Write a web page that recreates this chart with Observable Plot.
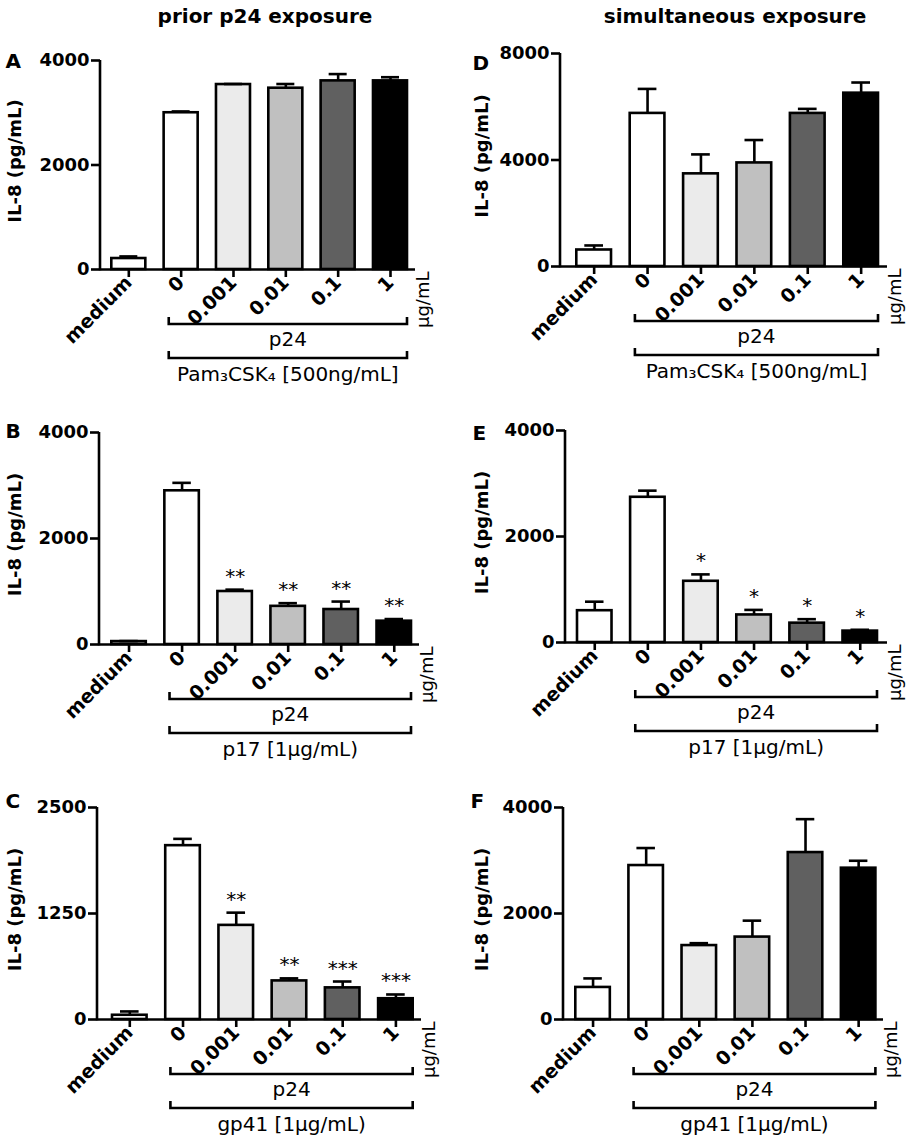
<!DOCTYPE html>
<html>
<head>
<meta charset="utf-8">
<script src="https://cdn.jsdelivr.net/npm/d3@7"></script>
<script src="https://cdn.jsdelivr.net/npm/@observablehq/plot@0.6"></script>
<style>
  html, body { margin: 0; padding: 0; background: #ffffff; }
  body { position: relative; width: 909px; height: 1142px; overflow: hidden; font-family: "DejaVu Sans", sans-serif; }
  .hdr { position: absolute; top: 6px; font-size: 20px; line-height: 20px; font-weight: bold; white-space: nowrap; transform: translateX(-50%); color: #000; }
  .panel { position: absolute; }
</style>
</head>
<body>
<div class="hdr" id="hdrLeft" style="left:265px"></div>
<div class="hdr" id="hdrRight" style="left:735px"></div>
<div id="root"></div>
<script>
// ---------------- data ----------------
const headers = ["prior p24 exposure", "simultaneous exposure"];
const categories = ["medium", "0", "0.001", "0.01", "0.1", "1"];
const p24Group = ["0", "0.001", "0.01", "0.1", "1"];
const innerLabel = "p24";
const unitLabel = "μg/mL";
const yLabel = "IL-8 (pg/mL)";

const valuesA = [210, 3000, 3540, 3470, 3610, 3610];
const errorsA = [40, 25, 10, 80, 130, 70];
const starsA  = ["", "", "", "", "", ""];

const valuesB = [55, 2900, 1000, 720, 660, 440];
const errorsB = [10, 150, 35, 60, 150, 40];
const starsB  = ["", "", "**", "**", "**", "**"];

const valuesC = [50, 2050, 1110, 455, 373, 245];
const errorsC = [45, 80, 150, 30, 75, 50];
const starsC  = ["", "", "**", "**", "***", "***"];

const valuesD = [620, 5750, 3480, 3890, 5750, 6510];
const errorsD = [170, 920, 730, 860, 170, 400];
const starsD  = ["", "", "", "", "", ""];

const valuesE = [600, 2740, 1155, 520, 365, 215];
const errorsE = [170, 125, 130, 95, 75, 25];
const starsE  = ["", "", "*", "*", "*", "*"];

const valuesF = [605, 2905, 1395, 1555, 3150, 2855];
const errorsF = [170, 330, 45, 310, 630, 140];
const starsF  = ["", "", "", "", "", ""];

const ticksA = [0, 2000, 4000];
const ticksB = [0, 2000, 4000];
const ticksC = [0, 1250, 2500];
const ticksD = [0, 4000, 8000];
const ticksE = [0, 2000, 4000];
const ticksF = [0, 2000, 4000];

const outerA = "Pam₃CSK₄ [500ng/mL]";
const outerB = "p17 [1μg/mL)";
const outerC = "gp41 [1μg/mL)";

// ---------------- styling / layout ----------------
const barFills = ["#ffffff", "#ffffff", "#ebebeb", "#c0c0c0", "#606060", "#000000"];
const SW = 2.6;

const panels = [
  {letter: "A", values: valuesA, errors: errorsA, stars: starsA, ticks: ticksA, outer: outerA,
   left: 0, width: 450, top: 40, axisX: 100, xEnd: 415, yTop: 60, y0: 269, r0: 111.3, r1: 407, letterX: 5, letterTop: 53, ylabX: 20},
  {letter: "B", values: valuesB, errors: errorsB, stars: starsB, ticks: ticksB, outer: outerB,
   left: 0, width: 450, top: 412, axisX: 99, xEnd: 419, yTop: 432, y0: 644, r0: 111.3, r1: 411, letterX: 5, letterTop: 423, ylabX: 20},
  {letter: "C", values: valuesC, errors: errorsC, stars: starsC, ticks: ticksC, outer: outerC,
   left: 0, width: 450, top: 787, axisX: 97, xEnd: 421, yTop: 807, y0: 1019, r0: 112, r1: 412.7, letterX: 5, letterTop: 793, ylabX: 20},
  {letter: "D", values: valuesD, errors: errorsD, stars: starsD, ticks: ticksD, outer: outerA,
   left: 450, width: 459, top: 33, axisX: 560, xEnd: 887, yTop: 53, y0: 266, r0: 576.3, r1: 878, letterX: 472, letterTop: 55, ylabX: 487},
  {letter: "E", values: valuesE, errors: errorsE, stars: starsE, ticks: ticksE, outer: outerB,
   left: 450, width: 459, top: 410, axisX: 565, xEnd: 887, yTop: 430, y0: 642, r0: 577, r1: 877, letterX: 472, letterTop: 425, ylabX: 487},
  {letter: "F", values: valuesF, errors: errorsF, stars: starsF, ticks: ticksF, outer: outerC,
   left: 450, width: 459, top: 787, axisX: 563, xEnd: 883, yTop: 807, y0: 1019, r0: 575.3, r1: 875.4, letterX: 470, letterTop: 793, ylabX: 487}
];

document.getElementById("hdrLeft").textContent = headers[0];
document.getElementById("hdrRight").textContent = headers[1];

// custom mark: y-axis line + the two grouping brackets with their labels
function axisAndBrackets(outerText) {
  return (index, scales, values, dims) => {
    const x = scales.x;
    const bw = x.bandwidth();
    const {height, marginLeft, marginTop, marginBottom} = dims;
    const y0 = height - marginBottom;
    const xa = x(p24Group[0]) + 0.15 * bw;
    const xb = x(p24Group[p24Group.length - 1]) + bw;
    const g = d3.create("svg:g");
    g.append("line")
      .attr("x1", marginLeft).attr("x2", marginLeft)
      .attr("y1", marginTop).attr("y2", y0 + SW / 2)
      .attr("stroke", "black").attr("stroke-width", SW);
    const offs = [55, 89];
    for (const off of offs) {
      g.append("path")
        .attr("d", `M${xa},${y0 + off - 7}V${y0 + off}H${xb}V${y0 + off - 7}`)
        .attr("fill", "none").attr("stroke", "black").attr("stroke-width", SW)
        .attr("stroke-linejoin", "miter");
    }
    const labs = [[innerLabel, 77], [outerText, 112]];
    for (const [t, off] of labs) {
      g.append("text")
        .attr("x", (xa + xb) / 2).attr("y", y0 + off)
        .attr("text-anchor", "middle")
        .attr("font-size", 20).attr("font-weight", "normal")
        .attr("fill", "black")
        .text(t);
    }
    return g.node();
  };
}

const root = document.getElementById("root");

for (const p of panels) {
  const data = categories.map((c, i) => ({
    cat: c,
    val: p.values[i],
    top: p.values[i] + p.errors[i],
    star: p.stars[i]
  }));
  const height = p.y0 + 125 - p.top;
  const marginTop = p.yTop - p.top;
  const marginBottom = height - (p.y0 - p.top);
  const marginLeft = p.axisX - p.left;
  const marginRight = p.left + p.width - p.xEnd;
  const ymax = p.ticks[p.ticks.length - 1];

  const chart = Plot.plot({
    width: p.width,
    height,
    marginTop, marginBottom, marginLeft, marginRight,
    x: {type: "band", domain: categories, range: [p.r0 - p.left, p.r1 - p.left],
        paddingInner: 0.35, paddingOuter: 0, round: false},
    y: {domain: [0, ymax]},
    color: {domain: categories, range: barFills},
    style: {fontFamily: "DejaVu Sans", fontSize: "18px", fontWeight: "bold",
            background: "transparent", color: "black", overflow: "visible"},
    marks: [
      Plot.barY(data, {x: "cat", y: "val", fill: "cat", stroke: "black", strokeWidth: SW}),
      Plot.ruleX(data, {x: "cat", y1: "val", y2: "top", stroke: "black", strokeWidth: SW}),
      Plot.tickY(data, {x: "cat", y: "top", stroke: "black", strokeWidth: SW, insetLeft: 8, insetRight: 8}),
      Plot.text(data, {x: "cat", y: "top", text: "star", lineAnchor: "bottom", dy: -7,
                       fontSize: 20, fontWeight: "normal", fill: "black"}),
      Plot.ruleY([0], {stroke: "black", strokeWidth: SW}),
      Plot.axisY({ticks: p.ticks, tickFormat: (d) => String(d), tickSize: 9, tickPadding: 2, strokeWidth: SW,
                  fontSize: 18, fontWeight: "bold", label: null}),
      Plot.axisX({tickRotate: -45, tickSize: 8, tickPadding: 2, strokeWidth: SW,
                  fontSize: 19, fontWeight: "bold", label: null}),
      Plot.text([unitLabel], {frameAnchor: "bottom-right", rotate: -90, textAnchor: "end",
                  lineAnchor: "bottom", dx: 13, dy: 2, fontSize: 18, fontWeight: "normal", fill: "black"}),
      Plot.text([yLabel], {frameAnchor: "left", rotate: -90, textAnchor: "middle", lineAnchor: "bottom",
                  dx: p.ylabX - p.axisX, dy: -4, fontSize: 18, fontWeight: "bold", fill: "black"}),
      Plot.text([p.letter], {frameAnchor: "top-left", textAnchor: "start", lineAnchor: "top",
                  dx: p.letterX - p.axisX, dy: p.letterTop - p.yTop, fontSize: 20, fontWeight: "bold", fill: "black"}),
      axisAndBrackets(p.outer)
    ]
  });
  const div = document.createElement("div");
  div.className = "panel";
  div.style.left = p.left + "px";
  div.style.top = p.top + "px";
  div.appendChild(chart);
  root.appendChild(div);
}
</script>
</body>
</html>
